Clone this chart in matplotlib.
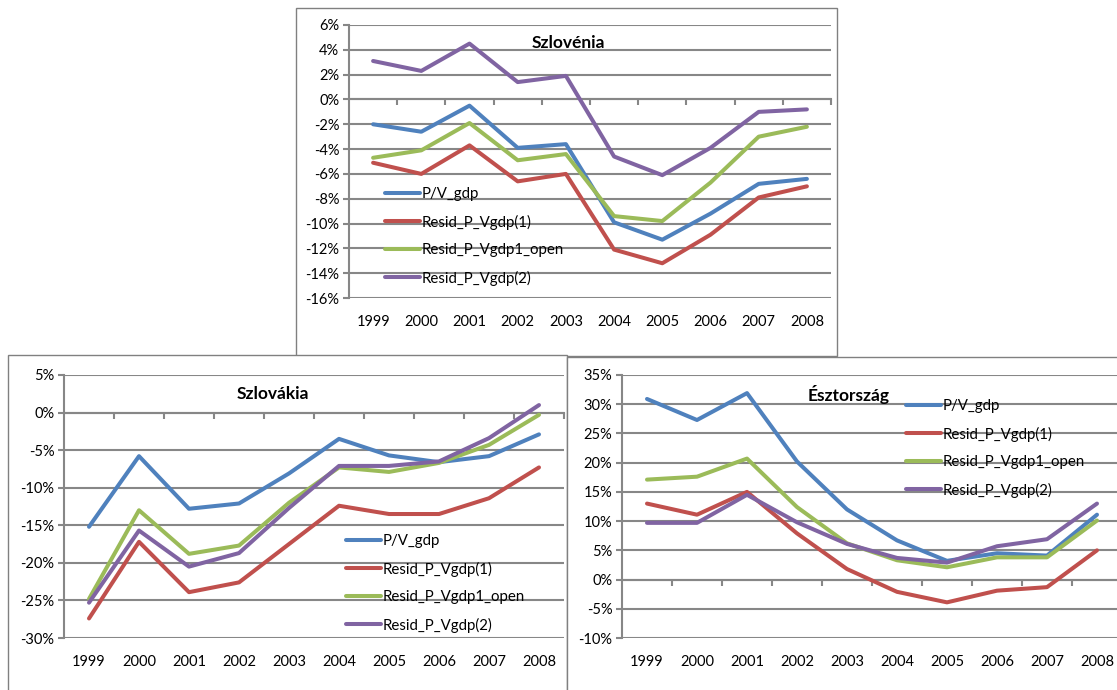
import matplotlib
matplotlib.use("Agg")
from matplotlib import pyplot as plt
from matplotlib.patches import Rectangle
from matplotlib.ticker import FuncFormatter, MultipleLocator

plt.rcParams['font.family'] = ['Lato', 'DejaVu Sans']

years = ['1999', '2000', '2001', '2002', '2003', '2004', '2005', '2006', '2007', '2008']
series_names = ['P/V_gdp', 'Resid_P_Vgdp(1)', 'Resid_P_Vgdp1_open', 'Resid_P_Vgdp(2)']
colors = ['#4F81BD', '#C0504D', '#9BBB59', '#8064A2']

# Szlovénia
slo_pv = [-2.0, -2.6, -0.5, -3.9, -3.6, -9.9, -11.3, -9.2, -6.8, -6.4]
slo_r1 = [-5.1, -6.0, -3.7, -6.6, -6.0, -12.1, -13.2, -10.9, -7.9, -7.0]
slo_open = [-4.7, -4.1, -1.9, -4.9, -4.4, -9.4, -9.8, -6.7, -3.0, -2.2]
slo_r2 = [3.1, 2.3, 4.5, 1.4, 1.9, -4.6, -6.1, -3.9, -1.0, -0.8]

# Szlovákia
svk_pv = [-15.2, -5.8, -12.8, -12.1, -8.1, -3.5, -5.7, -6.6, -5.8, -2.9]
svk_r1 = [-27.4, -17.2, -23.9, -22.6, -17.5, -12.4, -13.5, -13.5, -11.4, -7.3]
svk_open = [-24.8, -13.0, -18.8, -17.7, -12.0, -7.3, -7.9, -6.7, -4.3, -0.3]
svk_r2 = [-25.3, -15.7, -20.5, -18.7, -12.7, -7.1, -7.1, -6.5, -3.4, 1.0]

# Észtország
est_pv = [30.9, 27.3, 31.9, 20.2, 12.0, 6.7, 3.2, 4.5, 4.1, 11.1]
est_r1 = [13.0, 11.1, 15.0, 7.9, 1.8, -2.1, -3.9, -1.9, -1.3, 5.0]
est_open = [17.1, 17.6, 20.7, 12.4, 6.2, 3.3, 2.1, 3.8, 3.8, 10.1]
est_r2 = [9.7, 9.7, 14.5, 9.8, 6.1, 3.7, 2.9, 5.7, 6.9, 13.0]

W, H = 1117, 690
fig = plt.figure(figsize=(W / 100, H / 100), dpi=100)

def px_rect(l, t, r, b):
    return [l / W, (H - b) / H, (r - l) / W, (b - t) / H]

# panel frames
for (l, t, r, b) in [(296, 8, 837, 356), (8, 355, 567, 700), (567, 357, 1130, 700)]:
    fig.patches.append(Rectangle((l / W, (H - b) / H), (r - l) / W, (b - t) / H,
                                 transform=fig.transFigure, facecolor='white',
                                 edgecolor='#808080', linewidth=1.0, zorder=-5))

grid_c = '#878787'

def panel(rect, data, ylim, step, title, title_xy, legend_xy):
    ax = fig.add_axes(px_rect(*rect))
    ax.set_facecolor('none')
    x = list(range(len(years)))
    for vals, name, c in zip(data, series_names, colors):
        ax.plot(x, vals, color=c, lw=2.9, label=name,
                solid_joinstyle='round', solid_capstyle='round', zorder=3)
    ax.set_xlim(-0.5, len(years) - 0.5)
    ax.set_ylim(*ylim)
    ax.yaxis.set_major_locator(MultipleLocator(step))
    ax.yaxis.set_major_formatter(FuncFormatter(lambda v, p: f"{v:.0f}%"))
    ax.grid(axis='y', color=grid_c, lw=1.5, zorder=1)
    for s in ['top', 'right']:
        ax.spines[s].set_visible(False)
    ax.spines['left'].set_color(grid_c)
    ax.spines['left'].set_linewidth(1.5)
    ax.spines['bottom'].set_position(('data', 0))
    ax.spines['bottom'].set_color(grid_c)
    ax.spines['bottom'].set_linewidth(1.5)
    ax.set_xticks([i + 0.5 for i in range(len(years))])
    ax.set_xticklabels([])
    ax.tick_params(axis='x', length=4, width=1.5, color=grid_c, direction='out')
    ax.tick_params(axis='y', length=4, width=1.5, color=grid_c, labelsize=10.5, pad=3)
    sec = ax.secondary_xaxis(0.0)
    sec.set_xticks(x)
    sec.set_xticklabels(years)
    sec.tick_params(length=0, labelsize=10.5, pad=12)
    sec.spines['bottom'].set_visible(False)
    fig.text(title_xy[0] / W, 1 - title_xy[1] / H, title, fontsize=12.5,
             fontweight='bold', ha='center', va='center')
    ax.legend(loc='upper left', bbox_to_anchor=(legend_xy[0] / W, 1 - legend_xy[1] / H),
              bbox_transform=fig.transFigure, frameon=False, fontsize=10.8,
              handlelength=2.35, handletextpad=0.1, labelspacing=0.9,
              borderpad=0, borderaxespad=0)
    return ax

panel((349, 25, 831, 298), [slo_pv, slo_r1, slo_open, slo_r2], (-16, 6), 2,
      'Szlovénia', (568, 43), (385, 187))
panel((64, 375, 564, 638), [svk_pv, svk_r1, svk_open, svk_r2], (-30, 5), 5,
      'Szlovákia', (273, 394), (346, 534))
panel((622, 375, 1122, 638), [est_pv, est_r1, est_open, est_r2], (-10, 35), 5,
      'Észtország', (849, 395), (906, 399))

fig.savefig('out.png', dpi=100)
